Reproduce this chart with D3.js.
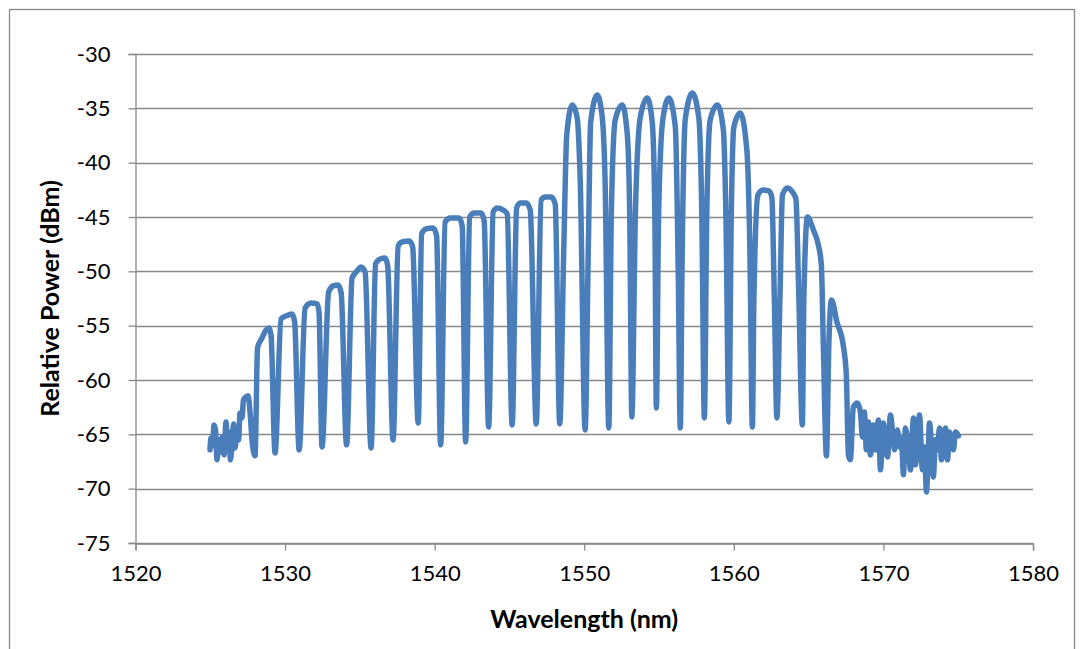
<!DOCTYPE html>
<html>
<head>
<meta charset="utf-8">
<script src="https://cdn.jsdelivr.net/npm/d3@7"></script>
<style>
  html, body { margin: 0; padding: 0; background: #fff; }
  svg { display: block; }
  .tick text { font-family: Lato, "Open Sans", sans-serif; font-size: 22px; fill: #000; }
  .axis-title { font-family: Lato, "Open Sans", sans-serif; font-size: 25px; font-weight: bold; fill: #000; }
</style>
</head>
<body>
<svg id="chart" width="1082" height="649"></svg>
<script>
// Axis ticks
const xTicks = [1520, 1530, 1540, 1550, 1560, 1570, 1580];
const yTicks = [-30, -35, -40, -45, -50, -55, -60, -65, -70, -75];

// Measured spectrum: wavelength (nm) and relative power (dBm)
const wavelengthNm = [
  1524.98, 1525.05, 1525.15, 1525.25, 1525.35, 1525.45, 1525.59, 1525.69, 1525.79, 1525.92,
  1526.05, 1526.15, 1526.25, 1526.35, 1526.46, 1526.56, 1526.66, 1526.79, 1526.89, 1526.99,
  1527.12, 1527.22, 1527.39, 1527.53, 1527.66, 1527.79, 1527.99,
  1528.16, 1528.46, 1528.73, 1528.93, 1529.06, 1529.33,
  1529.73, 1530.07, 1530.47, 1530.64, 1530.94,
  1531.34, 1531.74, 1532.14, 1532.27, 1532.47,
  1532.91, 1533.21, 1533.55, 1533.75, 1534.11,
  1534.48, 1534.75, 1535.08, 1535.35, 1535.75,
  1536.05, 1536.35, 1536.69, 1536.86, 1537.22,
  1537.56, 1537.83, 1538.30, 1538.53, 1538.90,
  1539.13, 1539.43, 1539.90, 1540.13, 1540.40,
  1540.70, 1541.04, 1541.64, 1541.84, 1542.07,
  1542.34, 1542.64, 1543.11, 1543.31, 1543.61,
  1543.91, 1544.18, 1544.58, 1544.85, 1545.18,
  1545.48, 1545.72, 1546.12, 1546.39, 1546.79,
  1547.12, 1547.39, 1547.79, 1548.06, 1548.36,
  1548.63, 1548.83, 1549.20, 1549.53, 1549.73, 1550.06,
  1550.27, 1550.43, 1550.87, 1551.20, 1551.40, 1551.64,
  1551.81, 1552.07, 1552.54, 1552.88, 1553.04, 1553.18,
  1553.42, 1553.75, 1554.21, 1554.55, 1554.72, 1554.82,
  1554.97, 1555.25, 1555.65, 1556.09, 1556.29, 1556.42,
  1556.55, 1556.75, 1557.22, 1557.66, 1557.86, 1558.03,
  1558.19, 1558.42, 1558.90, 1559.30, 1559.47, 1559.67,
  1559.83, 1560.00, 1560.43, 1560.87, 1561.07, 1561.24,
  1561.34, 1561.61, 1561.94, 1562.34, 1562.54, 1562.71, 1562.88,
  1563.08, 1563.25, 1563.58, 1563.92, 1564.15, 1564.35, 1564.58,
  1564.68, 1564.92, 1565.32, 1565.65, 1565.85, 1565.99, 1566.19,
  1566.36, 1566.53, 1566.89, 1567.32, 1567.52, 1567.66,
  1567.79, 1567.99, 1568.26, 1568.46, 1568.60, 1568.73, 1568.86, 1569.00, 1569.13, 1569.33,
  1569.47, 1569.67, 1569.80, 1570.00, 1570.13, 1570.27, 1570.47, 1570.60, 1570.74, 1570.94,
  1571.07, 1571.20, 1571.34, 1571.47, 1571.67, 1571.81, 1572.01, 1572.14, 1572.27, 1572.41,
  1572.61, 1572.74, 1572.88, 1572.98, 1573.08, 1573.21, 1573.34, 1573.48, 1573.61, 1573.75,
  1573.88, 1574.01, 1574.15, 1574.28, 1574.42, 1574.55, 1574.68, 1574.82, 1575.02
];
const powerDbm = [
  -66.43, -65.33, -66.06, -64.13, -64.59, -67.35, -65.51, -66.62, -65.24, -66.89,
  -63.86, -66.06, -64.78, -67.35, -65.51, -64.04, -66.25, -64.59, -65.51, -63.03,
  -63.49, -61.83, -61.56, -61.46, -63.03, -65.51, -66.98,
  -57.05, -56.13, -55.39, -55.21, -55.85, -66.71,
  -54.38, -54.10, -53.92, -54.66, -66.43,
  -53.37, -52.91, -53.00, -53.74, -66.16,
  -51.90, -51.34, -51.25, -51.99, -65.97,
  -50.61, -50.06, -49.60, -50.06, -66.25,
  -49.32, -48.86, -48.77, -49.50, -65.51,
  -47.66, -47.30, -47.20, -47.76, -63.95,
  -46.56, -46.10, -46.01, -46.74, -65.97,
  -45.46, -45.09, -45.09, -45.82, -65.70,
  -45.00, -44.63, -44.63, -45.36, -64.32,
  -44.54, -44.17, -44.35, -44.72, -64.13,
  -44.17, -43.71, -43.71, -44.35, -64.04,
  -43.43, -43.16, -43.16, -43.80, -64.04,
  -48.03, -37.45, -34.69, -35.89, -41.59, -64.59,
  -48.03, -36.26, -33.77, -35.80, -42.05, -64.41,
  -44.81, -36.07, -34.69, -37.45, -44.81, -63.40,
  -44.63, -35.80, -34.05, -36.35, -44.81, -62.57,
  -44.81, -36.07, -34.05, -36.72, -50.79, -64.41,
  -48.03, -36.07, -33.59, -35.89, -44.81, -63.49,
  -44.81, -36.07, -34.69, -36.99, -44.81, -63.86,
  -44.81, -36.72, -35.43, -38.83, -47.76, -64.32,
  -52.63, -42.97, -42.51, -42.60, -43.16, -52.63, -63.49,
  -52.63, -42.97, -42.33, -42.70, -43.34, -52.63, -64.13,
  -52.63, -45.00, -46.19, -47.57, -49.41, -57.23, -66.98,
  -56.31, -52.63, -54.66, -56.86, -59.53, -66.89,
  -67.35, -62.48, -62.11, -62.94, -65.24, -62.94, -66.43, -63.86, -66.89, -64.13,
  -66.43, -63.67, -68.27, -63.95, -65.97, -67.08, -63.21, -64.59, -66.43, -64.59,
  -66.16, -65.33, -68.73, -64.41, -66.16, -68.27, -63.49, -67.81, -65.79, -63.21,
  -68.27, -66.16, -70.30, -67.35, -63.95, -65.97, -68.92, -65.51, -66.43, -64.41,
  -67.35, -65.05, -64.41, -67.35, -64.78, -65.97, -66.43, -64.78, -65.14
];

const svg = d3.select("#chart");
const H = 649;
const gridColor = "#898989";

// Outer chart frame
svg.append("rect")
  .attr("x", 9.5).attr("y", 9.5)
  .attr("width", 1065).attr("height", H + 20)
  .attr("fill", "#fff")
  .attr("stroke", gridColor).attr("stroke-width", 1.3);

const x = d3.scaleLinear().domain([1520, 1580]).range([135.5, 1033]);
const y = d3.scaleLinear().domain([-75, -30]).range([543, 54]);

// Horizontal gridlines
svg.append("g")
  .selectAll("line")
  .data(yTicks)
  .join("line")
  .attr("x1", x(1520)).attr("x2", x(1580))
  .attr("y1", d => Math.round(y(d)) + 0.5).attr("y2", d => Math.round(y(d)) + 0.5)
  .attr("stroke", gridColor).attr("stroke-width", 1.3);

// Y axis
const yAxis = svg.append("g")
  .attr("transform", `translate(${x(1520)},0)`)
  .call(d3.axisLeft(y).tickValues(yTicks).tickSize(7).tickPadding(18).tickFormat(d3.format("d")));

// X axis
const xAxis = svg.append("g")
  .attr("transform", `translate(0,${Math.round(y(-75)) + 0.5})`)
  .call(d3.axisBottom(x).tickValues(xTicks).tickSize(7).tickPadding(15).tickFormat(d3.format("d")));

[yAxis, xAxis].forEach(g => {
  g.select(".domain").attr("stroke", gridColor).attr("stroke-width", 1.3);
  g.selectAll(".tick line").attr("stroke", gridColor).attr("stroke-width", 1.3);
});
yAxis.selectAll(".tick text").text(d => String(d).replace("\u2212", "-"));

// Spectrum trace
const pts = wavelengthNm.map((w, i) => [w, powerDbm[i]]);
const line = d3.line()
  .x(d => x(d[0]))
  .y(d => y(d[1]))
  .curve(d3.curveMonotoneX);

svg.append("path")
  .datum(pts)
  .attr("d", line)
  .attr("fill", "none")
  .attr("stroke", "#4a7ebb")
  .attr("stroke-width", 5.5)
  .attr("stroke-linejoin", "round")
  .attr("stroke-linecap", "round");

// Axis titles
svg.append("text")
  .attr("class", "axis-title")
  .attr("x", (x(1520) + x(1580)) / 2)
  .attr("y", 628)
  .attr("text-anchor", "middle")
  .text("Wavelength (nm)");

svg.append("text")
  .attr("class", "axis-title")
  .attr("transform", `translate(59,${(y(-30) + y(-75)) / 2}) rotate(-90)`)
  .attr("text-anchor", "middle")
  .text("Relative Power (dBm)");
</script>
</body>
</html>
